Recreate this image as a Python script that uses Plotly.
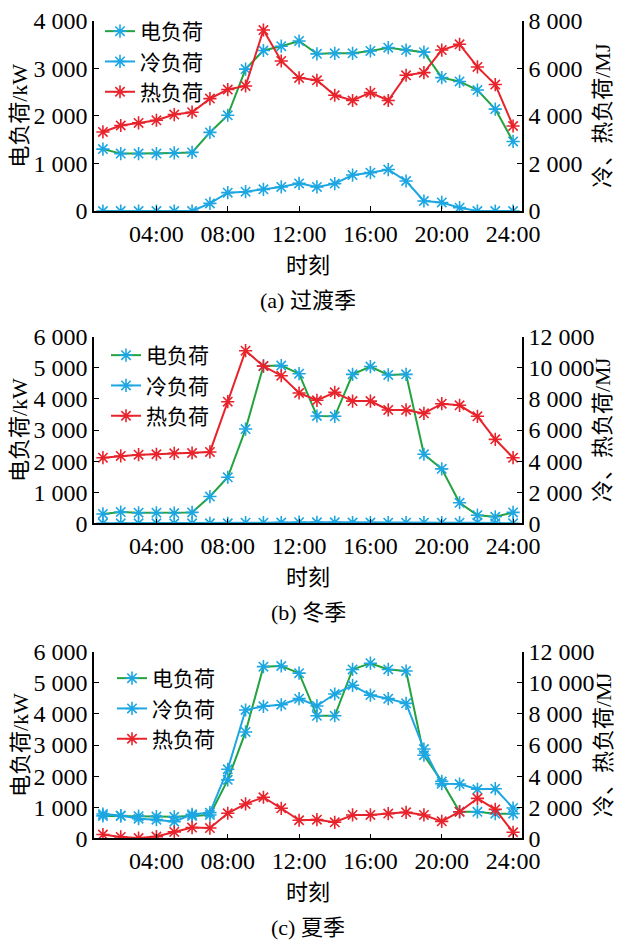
import plotly.graph_objects as go

hours = list(range(1, 25))
x_tick_vals = [4, 8, 12, 16, 20, 24]
x_tick_text = ["04:00", "08:00", "12:00", "16:00", "20:00", "24:00"]

# (a) transition season
elec_a = [1300, 1205, 1205, 1205, 1220, 1230, 1650, 2010, 2980, 3370, 3460, 3570,
          3300, 3310, 3310, 3360, 3430, 3380, 3335, 2800, 2720, 2540, 2140, 1460]
cold_a = [0, 0, 0, 0, 0, 0, 320, 770, 810, 910, 1010, 1160,
          1010, 1150, 1510, 1610, 1740, 1260, 420, 360, 140, 0, 0, 0]
heat_a = [3320, 3590, 3700, 3810, 4050, 4150, 4720, 5100, 5250, 7600, 6300, 5590,
          5490, 4860, 4640, 4970, 4640, 5700, 5810, 6760, 7000, 6050, 5310, 3570]

# (b) winter
elec_b = [300, 360, 340, 340, 330, 350, 860, 1480, 3030, 5060, 5070, 4810,
          3450, 3440, 4790, 5040, 4770, 4790, 2220, 1750, 660, 260, 210, 350]
cold_b = [0, 0, 0, 0, 0, 0, 0, 0, 40, 40, 50, 70,
          60, 60, 50, 50, 40, 40, 40, 40, 40, 40, 0, 0]
heat_b = [4220, 4330, 4410, 4440, 4500, 4520, 4590, 7820, 11100, 10110, 9490, 8380,
          7910, 8420, 7860, 7860, 7290, 7290, 7070, 7690, 7590, 6880, 5400, 4220]

# (c) summer
elec_c = [720, 720, 710, 700, 690, 720, 750, 1880, 3420, 5520, 5540, 5310,
          3940, 3940, 5430, 5630, 5430, 5380, 2670, 1830, 850, 850, 790, 790]
cold_c = [1560, 1460, 1260, 1200, 1070, 1540, 1650, 4440, 8250, 8490, 8590, 8980,
          8510, 9280, 9840, 9210, 8980, 8680, 5740, 3510, 3490, 3150, 3190, 1950]
heat_c = [240, 90, 20, 110, 410, 690, 660, 1610, 2210, 2640, 1930, 1160,
          1200, 1030, 1500, 1500, 1590, 1670, 1500, 1090, 1710, 2570, 1860, 390]

series_names = ["电负荷", "冷负荷", "热负荷"]
captions = ["(a) 过渡季", "(b) 冬季", "(c) 夏季"]
left_title = "电负荷/kW"
right_title = "冷、热负荷/MJ"
x_title = "时刻"

left_ticks = [[0, 1000, 2000, 3000, 4000], [0, 1000, 2000, 3000, 4000, 5000, 6000],
              [0, 1000, 2000, 3000, 4000, 5000, 6000]]
left_tick_text = [["0", "1 000", "2 000", "3 000", "4 000"],
                  ["0", "1 000", "2 000", "3 000", "4 000", "5 000", "6 000"],
                  ["0", "1 000", "2 000", "3 000", "4 000", "5 000", "6 000"]]
right_ticks = [[0, 2000, 4000, 6000, 8000], [0, 2000, 4000, 6000, 8000, 10000, 12000],
               [0, 2000, 4000, 6000, 8000, 10000, 12000]]
right_tick_text = [["0", "2 000", "4 000", "6 000", "8 000"],
                   ["0", "2 000", "4 000", "6 000", "8 000", "10 000", "12 000"],
                   ["0", "2 000", "4 000", "6 000", "8 000", "10 000", "12 000"]]

W, H = 617, 940
FONT = "Liberation Serif, Noto Sans CJK SC"
GREEN = "#22a33f"
BLUE = "#1ca6e2"
RED = "#e8232b"

panels = [
    dict(elec=elec_a, cold=cold_a, heat=heat_a, top=20.5, bottom=211),
    dict(elec=elec_b, cold=cold_b, heat=heat_b, top=336.7, bottom=523.3),
    dict(elec=elec_c, cold=cold_c, heat=heat_c, top=651.7, bottom=838.3),
]
legend_pos = [(100, 11), (106, 335), (112, 658)]

x0, x1 = 94, 522
fig = go.Figure()
layout = dict(width=W, height=H, margin=dict(l=0, r=0, t=0, b=0, autoexpand=False),
              paper_bgcolor="white", plot_bgcolor="white",
              font=dict(family=FONT, size=23, color="black"), annotations=[])

axis_common = dict(showline=True, linecolor="black", linewidth=1.5, ticks="inside",
                   ticklen=5, tickwidth=1.2, tickcolor="black", showgrid=False,
                   zeroline=False, automargin=False,
                   tickfont=dict(family=FONT, size=24, color="black"))

for i, p in enumerate(panels):
    xa = "x" if i == 0 else f"x{i+1}"
    yl = 2 * i + 1
    yr = 2 * i + 2
    yl_name = "y" if yl == 1 else f"y{yl}"
    yr_name = f"y{yr}"
    leg = "legend" if i == 0 else f"legend{i+1}"
    mk_blue = dict(symbol="asterisk-open", size=11, color=BLUE, line=dict(color=BLUE, width=1.6))
    mk_red = dict(symbol="asterisk-open", size=11, color=RED, line=dict(color=RED, width=1.6))
    fig.add_trace(go.Scatter(x=hours, y=p["elec"], name=series_names[0], mode="lines+markers",
                             line=dict(color=GREEN, width=2), marker=mk_blue,
                             xaxis=xa, yaxis=yl_name, legend=leg))
    fig.add_trace(go.Scatter(x=hours, y=p["cold"], name=series_names[1], mode="lines+markers",
                             line=dict(color=BLUE, width=2), marker=mk_blue,
                             xaxis=xa, yaxis=yr_name, legend=leg))
    fig.add_trace(go.Scatter(x=hours, y=p["heat"], name=series_names[2], mode="lines+markers",
                             line=dict(color=RED, width=2), marker=mk_red,
                             xaxis=xa, yaxis=yr_name, legend=leg))
    dom = [1 - p["bottom"] / H, 1 - p["top"] / H]
    xkey = "xaxis" if i == 0 else f"xaxis{i+1}"
    ylkey = "yaxis" if yl == 1 else f"yaxis{yl}"
    yrkey = f"yaxis{yr}"
    layout[xkey] = dict(axis_common, domain=[x0 / W, x1 / W], anchor=yl_name,
                        range=[0.5, 24.5], tickvals=x_tick_vals, ticktext=x_tick_text)
    layout[ylkey] = dict(axis_common, domain=dom, anchor=xa,
                         range=[0, left_ticks[i][-1]], tickvals=left_ticks[i],
                         ticktext=left_tick_text[i])
    layout[yrkey] = dict(axis_common, overlaying=yl_name, side="right", anchor=xa,
                         range=[0, right_ticks[i][-1]], tickvals=right_ticks[i],
                         ticktext=right_tick_text[i])
    lx, ly = legend_pos[i]
    layout[leg] = dict(x=lx / W, y=1 - ly / H, xanchor="left", yanchor="top",
                       bgcolor="rgba(0,0,0,0)", font=dict(family=FONT, size=21, color="black"),
                       itemwidth=30, tracegroupgap=0)
    ymid = 1 - (p["top"] + p["bottom"]) / 2 / H
    layout["annotations"] += [
        dict(text=left_title, x=20 / W, y=ymid, xref="paper", yref="paper", textangle=-90,
             showarrow=False, xanchor="center", yanchor="middle",
             font=dict(family=FONT, size=22, color="black")),
        dict(text=right_title, x=603 / W, y=ymid, xref="paper", yref="paper", textangle=-90,
             showarrow=False, xanchor="center", yanchor="middle",
             font=dict(family=FONT, size=22, color="black")),
        dict(text=x_title, x=(x0 + x1) / 2 / W, y=1 - (p["bottom"] + 54) / H, xref="paper",
             yref="paper", showarrow=False, xanchor="center", yanchor="middle",
             font=dict(family=FONT, size=22, color="black")),
        dict(text=captions[i], x=(x0 + x1) / 2 / W, y=1 - (p["bottom"] + 89) / H, xref="paper",
             yref="paper", showarrow=False, xanchor="center", yanchor="middle",
             font=dict(family=FONT, size=22, color="black")),
    ]

fig.update_layout(**layout)
fig.write_html("out.html")
